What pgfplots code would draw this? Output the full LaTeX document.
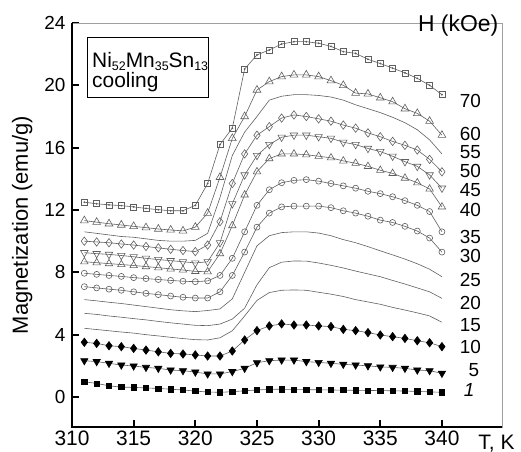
\documentclass[border=0pt]{standalone}
\usepackage{fontspec}
\setmainfont{Liberation Sans}
\usepackage{pgfplots}
\usepackage{pgfplotstable}
\pgfplotsset{compat=1.18}

\definecolor{mk}{RGB}{95,95,95}

% magnetization (emu/g) vs T (K), cooling, one column per field (kOe)
\pgfplotstableread{
T   h1   h5   h10  h15  h20  h25   h30   h35   h40   h45   h50   h55   h60   h70
311 0.98 2.33 3.51 4.41 5.37 6.25  7.08  7.94  8.68  9.26  10.00 10.60 11.32 12.50
312 0.87 2.27 3.44 4.33 5.30 6.17  7.00  7.87  8.62  9.20  9.95  10.50 11.22 12.40
313 0.72 2.16 3.29 4.25 5.20 6.08  6.92  7.80  8.56  9.15  9.90  10.40 11.12 12.33
314 0.63 2.05 3.23 4.17 5.12 6.00  6.85  7.74  8.50  9.08  9.82  10.30 11.04 12.28
315 0.62 1.99 3.12 4.10 5.03 5.90  6.75  7.66  8.44  9.00  9.75  10.25 10.95 12.20
316 0.58 1.90 3.01 4.00 4.95 5.80  6.65  7.60  8.37  8.90  9.66  10.15 10.87 12.10
317 0.55 1.84 2.90 3.92 4.85 5.70  6.57  7.54  8.30  8.82  9.57  10.05 10.78 12.02
318 0.50 1.73 2.80 3.83 4.76 5.60  6.48  7.48  8.22  8.75  9.48  10.00 10.72 11.95
319 0.45 1.69 2.76 3.75 4.68 5.53  6.40  7.43  8.15  8.68  9.40  10.00 10.66 11.95
320 0.38 1.60 2.70 3.68 4.60 5.48  6.35  7.40  8.06  8.60  9.33  10.05 10.90 12.30
321 0.32 1.48 2.63 3.66 4.58 5.55  6.35  7.45  8.04  8.68  9.75  10.50 11.80 13.70
322 0.30 1.48 2.63 3.80 4.68 5.65  6.75  7.80  9.20  9.90  11.25 12.80 14.10 16.20
323 0.34 1.63 2.95 4.25 5.00 6.30  7.80  8.90  11.00 12.40 13.70 15.50 16.60 17.25
324 0.40 1.84 3.66 5.20 5.70 8.00  9.30  10.60 12.97 14.25 15.60 17.00 18.00 21.05
325 0.45 2.20 4.26 6.20 7.20 9.70  10.90 12.30 14.46 15.50 16.80 18.00 19.70 21.95
326 0.49 2.33 4.56 6.70 8.30 10.35 11.80 13.30 15.30 16.20 17.35 19.05 20.24 22.27
327 0.50 2.37 4.69 6.85 8.65 10.55 12.20 13.75 15.60 16.67 17.90 19.30 20.56 22.65
328 0.48 2.37 4.62 6.87 8.73 10.60 12.25 13.90 15.60 16.80 18.10 19.40 20.67 22.80
329 0.47 2.27 4.62 6.85 8.72 10.60 12.25 13.95 15.55 16.80 18.00 19.40 20.67 22.80
330 0.46 2.22 4.56 6.72 8.60 10.52 12.25 13.85 15.45 16.70 17.85 19.35 20.56 22.70
331 0.45 2.16 4.52 6.60 8.45 10.35 12.15 13.70 15.35 16.60 17.70 19.25 20.30 22.50
332 0.44 2.10 4.34 6.45 8.28 10.10 11.95 13.55 15.15 16.35 17.45 19.05 20.00 22.16
333 0.43 2.05 4.26 6.25 8.08 9.90  11.80 13.40 15.00 16.20 17.25 18.75 19.50 22.05
334 0.42 2.00 4.13 6.10 7.90 9.65  11.60 13.20 14.80 15.95 16.95 18.50 19.45 21.67
335 0.41 1.93 3.98 5.95 7.72 9.38  11.35 13.05 14.55 15.75 16.70 18.25 19.20 21.40
336 0.40 1.90 3.87 5.75 7.48 9.12  11.20 12.85 14.35 15.45 16.40 17.95 18.95 21.10
337 0.38 1.84 3.76 5.58 7.25 8.85  10.95 12.60 14.05 15.10 16.15 17.60 18.50 20.80
338 0.36 1.73 3.61 5.40 7.00 8.55  10.65 12.30 13.75 14.80 15.85 17.15 18.20 20.45
339 0.33 1.69 3.48 5.20 6.75 8.20  10.20 11.90 13.35 14.25 15.25 16.50 17.70 20.00
340 0.30 1.52 3.23 4.80 6.33 7.72  9.30  10.60 12.20 13.40 14.45 15.60 16.80 19.40
}\magdata

\newcommand{\sub}[1]{\raisebox{-3bp}{\fontsize{12.5}{13}\selectfont #1}}

\begin{document}
\begin{tikzpicture}
\begin{axis}[
    scale only axis, width=430bp, height=404bp,
    xmin=310, xmax=344.87, ymin=-1.925, ymax=24,
    xtick={310,315,...,340}, ytick={0,4,...,24},
    xtick pos=bottom, ytick pos=left, tick align=inside,
    major tick length=7bp,
    tick style={black, line width=2bp},
    axis line style={draw=gray!75, line width=0.8bp},
    /pgf/number format/assume math mode=true,
    yticklabel style={font=\fontsize{19}{22}\selectfont, xshift=-3bp},
    xticklabel style={font=\fontsize{21}{24}\selectfont},
    ylabel={Magnetization (emu/g)},
    ylabel style={font=\fontsize{22}{26}\selectfont, at={(axis description cs:-0.116,0.5)}, anchor=center},
    clip=false,
    every axis plot/.append style={mk, line width=0.6bp},
    open/.style={mark options={solid, draw=mk, fill=white, line width=0.6bp, #1}},
    open/.default={},
    full/.style={mark options={solid, draw=black, fill=black, #1}},
    full/.default={},
  ]
  % plain lines
  \addplot[no marks] table[y=h15] {\magdata};
  \addplot[no marks] table[y=h20] {\magdata};
  \addplot[no marks] table[y=h25] {\magdata};
  \addplot[no marks] table[y=h55] {\magdata};
  % open symbols
  \addplot[mark=o, mark size=3bp, open] table[y=h30] {\magdata};
  \addplot[mark=o, mark size=3bp, open] table[y=h35] {\magdata};
  \addplot[mark=triangle, mark size=4.3bp, open] table[y=h40] {\magdata};
  \addplot[mark=triangle, mark size=4.3bp, open={rotate=180}] table[y=h45] {\magdata};
  \addplot[mark=diamond, mark size=4.2bp, open] table[y=h50] {\magdata};
  \addplot[mark=triangle, mark size=4.5bp, open] table[y=h60] {\magdata};
  \addplot[mark=square, mark size=3bp, open] table[y=h70] {\magdata};
  \addplot[only marks, mark=*, mark size=0.6bp, mark options={draw=mk, fill=mk}] table[y=h70] {\magdata};
  % filled symbols
  \addplot[mark=diamond*, mark size=4.2bp, full] table[y=h10] {\magdata};
  \addplot[mark=triangle*, mark size=4.2bp, full={rotate=180}] table[y=h5] {\magdata};
  \addplot[mark=square*, mark size=2.6bp, full] table[y=h1] {\magdata};

  % thick left and bottom axis lines
  \draw[black, line width=2.5bp] (rel axis cs:0,1) -- (rel axis cs:0,0) -- (rel axis cs:1,0);

  % sample box
  \draw[black, line width=1bp] (axis cs:311.22,23.04) rectangle (axis cs:321.03,19.25);
  \node[anchor=base west, inner sep=0pt, font=\fontsize{21}{24}\selectfont] at (axis cs:311.62,21.15)
    {Ni\sub{52}Mn\sub{35}Sn\sub{13}};
  \node[anchor=base west, inner sep=0pt, font=\fontsize{21}{24}\selectfont] at (axis cs:311.62,19.85) {cooling};

  \node[anchor=base west, inner sep=0pt, font=\fontsize{23}{26}\selectfont] at (axis cs:338.05,23.44) {H (kOe)};
  \node[anchor=base east, inner sep=0pt, font=\fontsize{21}{26}\selectfont] at (axis cs:345.9,-1.925) [yshift=-22bp] {T, K};

  % field labels
  \begin{scope}[every node/.style={font=\fontsize{19}{22}\selectfont, anchor=center, inner sep=0pt}]
    \node at (axis cs:342.3,19.00) {70};
    \node at (axis cs:342.3,16.88) {60};
    \node at (axis cs:342.3,15.69) {55};
    \node at (axis cs:342.3,14.50) {50};
    \node at (axis cs:342.3,13.28) {45};
    \node at (axis cs:342.3,12.00) {40};
    \node at (axis cs:342.3,10.27) {35};
    \node at (axis cs:342.3,9.02) {30};
    \node at (axis cs:342.3,7.50) {25};
    \node at (axis cs:342.3,6.06) {20};
    \node at (axis cs:342.3,4.59) {15};
    \node at (axis cs:342.3,3.18) {10};
    \node at (axis cs:342.6,1.73) {5};
    \node at (axis cs:342.2,0.45) {\textit{1}};
  \end{scope}
\end{axis}
\pgfresetboundingbox
\path (-72bp,-25bp) rectangle (449bp,427bp);
\end{tikzpicture}
\end{document}
